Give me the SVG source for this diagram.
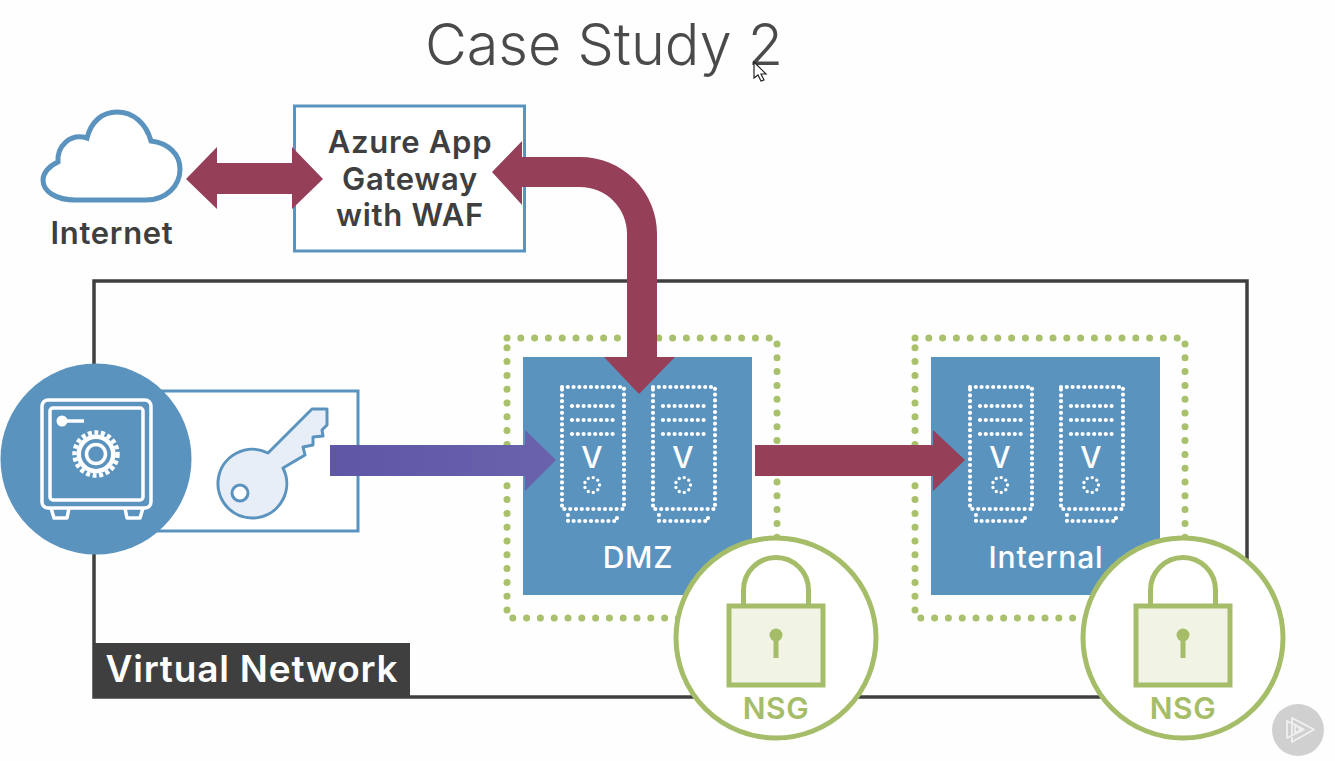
<svg xmlns="http://www.w3.org/2000/svg" xmlns:xlink="http://www.w3.org/1999/xlink" width="1335" height="761" viewBox="0 0 1335 761">
<style>
text{font-family:"Inter","Noto Sans","Liberation Sans",sans-serif;font-weight:600;text-anchor:middle}
.t{font-size:31px;fill:#3f3f3f;letter-spacing:.7px}
.w{font-size:30px;fill:#fff;letter-spacing:.8px;font-weight:500}
.n{font-size:30px;fill:#a5bd68;letter-spacing:.6px}
.blue{fill:#5b93bf}
.box{fill:#fff;stroke:#5b93bf;stroke-width:3}
.red{fill:#963f58}
.dotg{fill:none;stroke:#a9c16c;stroke-width:7;stroke-linecap:round;stroke-dasharray:0 13.8}
.d{fill:none;stroke:#fff;stroke-width:4.2;stroke-linecap:round;stroke-dasharray:0 5.8}
.sf{fill:none;stroke:#fff;stroke-width:3.5;stroke-linejoin:round}
.ring{fill:#fff;stroke:#a5bd68;stroke-width:5}
.lk{fill:none;stroke:#a5bd68;stroke-width:5}
</style>
<defs>
<linearGradient id="pg" x1="0" x2="1" y1="0" y2="0"><stop offset="0" stop-color="#5f57a6"/><stop offset="1" stop-color="#6a62ac"/></linearGradient>
<g id="server">
<rect class="d" x="562" y="387" width="62" height="122"/>
<path class="d" d="M572 406H614M572 420H614M572 434H614M568 515V521H617V515"/>
<text x="592" y="468" style="font-size:30px;fill:#fff;font-weight:500">V</text>
<circle class="d" cx="592" cy="485" r="7.500" style="stroke-width:3.400;stroke-dasharray:0 5.200"/>
</g>
<g id="lock">
<circle class="ring" cx="776" cy="638" r="100"/>
<path class="lk" d="M743.500 606V590A32.500 32.500 0 0 1 808.500 590V606"/>
<rect x="729" y="606" width="94" height="79" fill="#f1f4e5" stroke="#a5bd68" stroke-width="5"/>
<circle cx="776" cy="635" r="6.500" fill="#a5bd68"/>
<path class="lk" d="M776 635V658"/>
<text class="n" x="776" y="719">NSG</text>
</g>
</defs>
<rect width="1335" height="761" fill="#fefefe"/>
<text id="title" x="604" y="65" style="font-size:57.500px;font-weight:300;fill:#4a4a4a">Case Study 2</text>
<g id="vnet">
<rect x="94" y="281" width="1153" height="416" fill="none" stroke="#3f3f3f" stroke-width="3.500"/>
<rect x="93" y="643" width="317" height="55" fill="#3f3f3f"/>
<text x="252" y="682" style="font-size:37px;fill:#fff;letter-spacing:.8px">Virtual Network</text>
</g>
<g id="internet">
<path d="M75 200H146C166 200 180 186 180 169C180 154 168 143 151 141C146 123 133 112 117 112C102 112 91 122 87 138C70 133 57 146 58 162C49 166 43 173 43 180C43 192 57 200 75 200Z" fill="#fff" stroke="#5b93bf" stroke-width="5"/>
<text class="t" x="112" y="244">Internet</text>
</g>
<g id="gateway">
<rect class="box" x="294.500" y="106" width="230" height="145"/>
<text class="t" x="410" y="153">Azure App</text>
<text class="t" x="410" y="190">Gateway</text>
<text class="t" x="410" y="226">with WAF</text>
</g>
<g id="dmz">
<rect class="dotg" x="507" y="338" width="270" height="280"/>
<rect class="blue" x="523" y="357" width="229" height="238"/>
<use xlink:href="#server" href="#server"/>
<use xlink:href="#server" href="#server" x="91"/>
<text class="w" x="638" y="568">DMZ</text>
</g>
<g id="internal">
<rect class="dotg" x="915" y="338" width="270" height="280"/>
<rect class="blue" x="931" y="357" width="229" height="238"/>
<use xlink:href="#server" href="#server" x="408"/>
<use xlink:href="#server" href="#server" x="499"/>
<text class="w" x="1046" y="568">Internal</text>
</g>
<g id="keyvault">
<rect class="box" x="150" y="391" width="208" height="140"/>
<circle class="blue" cx="96" cy="459" r="95.500"/>
<rect class="sf" x="42" y="400" width="109" height="108" rx="6"/>
<rect class="sf" x="50" y="408" width="93" height="92" rx="3"/>
<path class="sf" d="M51 508L54 518H67L69 508M125 508L127 518H140L143 508"/>
<circle cx="62" cy="421" r="5.500" fill="#fff"/>
<path class="sf" d="M66 421H84"/>
<circle cx="96" cy="454" r="21.500" fill="none" stroke="#fff" stroke-width="4.500" stroke-dasharray="4 2.600"/>
<circle cx="96" cy="454" r="19.500" fill="#fff"/>
<circle cx="96" cy="454" r="15" fill="#5b93bf"/>
<circle cx="96" cy="454" r="9.500" fill="#5b93bf" stroke="#fff" stroke-width="3.500"/>
<path d="M268 453L312 409H327V425L322 430L323 436L313 437V445L303 447L305 455L283 468A34.400 34.400 0 1 1 268 453Z" fill="#e8eef8" stroke="#5b93bf" stroke-width="3" stroke-linejoin="round"/>
<circle cx="240" cy="493" r="8" fill="#fff" stroke="#5b93bf" stroke-width="3"/>
</g>
<g id="connectors">
<path class="red" d="M186 179L217 147V163H292V147L323 179L292 209V194H217V209Z"/>
<path class="red" d="M492 172L522 141V157H580A77 77 0 0 1 657 234V357H675L639 394L604 357H627V234A47 47 0 0 0 580 187H522V205Z"/>
<path fill="url(#pg)" d="M330 445H525V430L556 460L525 491V476H330Z"/>
<path class="red" d="M755 445H933V430L965 460L933 491V476H755Z"/>
</g>
<g id="nsg1"><use xlink:href="#lock" href="#lock"/></g>
<g id="nsg2"><use xlink:href="#lock" href="#lock" x="407"/></g>
<g id="badge">
<circle cx="1298" cy="730" r="26" fill="#d0d0d0"/>
<path d="M1292 718L1314 729.500L1292 742ZM1287 721V738L1304 729.500ZM1295 724.500L1301 729.500L1295 733.500Z" fill="none" stroke="#f0f0f0" stroke-width="1.800" stroke-linejoin="round"/>
</g>
<path id="cursor" d="M754 62V78L758 75L761 81L764 80L761 74L766 74Z" fill="#fff" stroke="#222" stroke-width="1.200"/>
</svg>
